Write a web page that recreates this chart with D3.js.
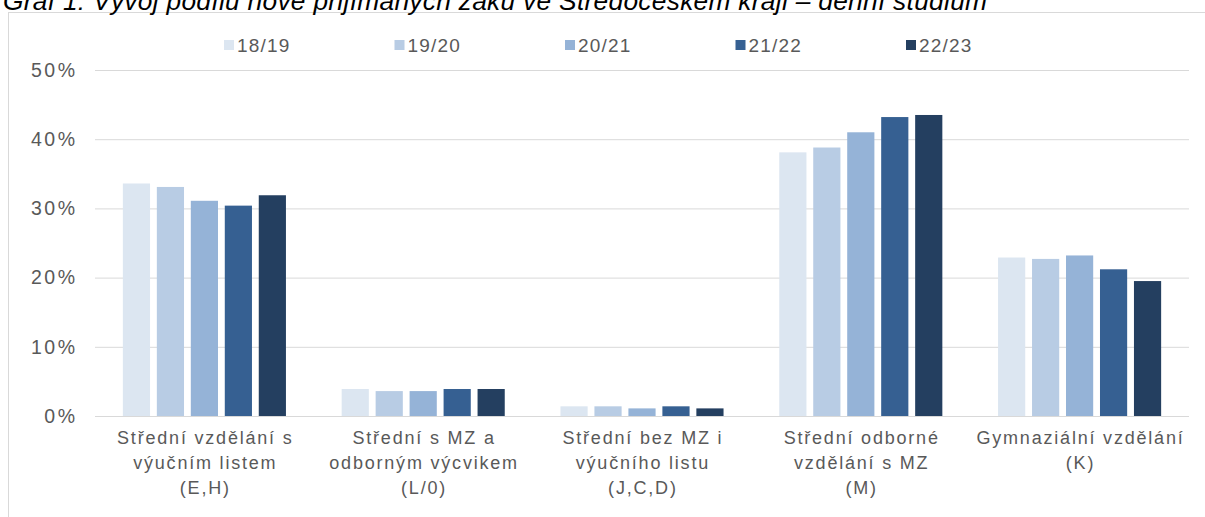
<!DOCTYPE html>
<html><head><meta charset="utf-8">
<script src="https://cdn.jsdelivr.net/npm/d3@7"></script>
<style>
html,body{margin:0;padding:0;background:#fff;overflow:hidden}
svg{display:block;font-family:"Liberation Sans",Arial,sans-serif}
</style></head><body>
<svg id="c" width="1205" height="517"></svg>
<script>
const title = "Graf 1: Vývoj podílu nově přijímaných žáků ve Středočeském kraji – denní studium";
const categories = [
  ["Střední vzdělání s","výučním listem","(E,H)"],
  ["Střední s MZ a","odborným výcvikem","(L/0)"],
  ["Střední bez MZ i","výučního listu","(J,C,D)"],
  ["Střední odborné","vzdělání s MZ","(M)"],
  ["Gymnaziální vzdělání","(K)"]
];
const seriesNames = ["18/19","19/20","20/21","21/22","22/23"];
const s1819 = [33.6, 3.9, 1.4, 38.1, 22.9];
const s1920 = [33.1, 3.6, 1.4, 38.8, 22.7];
const s2021 = [31.1, 3.6, 1.1, 41.0, 23.2];
const s2122 = [30.4, 3.9, 1.4, 43.2, 21.2];
const s2223 = [31.9, 3.9, 1.1, 43.5, 19.5];
const seriesValues = [s1819, s1920, s2021, s2122, s2223];
const colors = ["#dce6f1","#b8cce4","#95b3d7","#366092","#243f60"];
const yTicks = [0,10,20,30,40,50];

const svg = d3.select("#c");
const textColor = "#595959";

// frame
svg.append("rect").attr("x",8.5).attr("y",12.5).attr("width",1205).attr("height",520)
  .attr("fill","none").attr("stroke","#d9d9d9").attr("stroke-width",1);

// title (clipped at the top, as in the source)
svg.append("text").attr("x",3).attr("y",10).attr("font-style","italic")
  .attr("font-size",26.3).attr("letter-spacing",0.3).attr("fill","#000").text(title);

const plot = {left:95, right:1189, top:70, bottom:416};
const x0 = d3.scaleBand().domain(d3.range(categories.length)).range([plot.left, plot.right]).padding(0);
const x1 = d3.scaleBand().domain(d3.range(seriesNames.length)).range([0, x0.bandwidth()])
  .paddingInner(0.2).paddingOuter(0.82);
const y = d3.scaleLinear().domain([0,50]).range([plot.bottom, plot.top]);

// gridlines + tick labels
const tickSpacing = 2.5;
const yAxis = d3.axisLeft(y).tickValues(yTicks).tickFormat(d => d + "%")
  .tickSize(-(plot.right-plot.left)).tickPadding(20 - tickSpacing);
const gy = svg.append("g").attr("transform",`translate(${plot.left},0)`).call(yAxis);
gy.select(".domain").remove();
gy.selectAll(".tick line").attr("stroke","#d9d9d9").attr("stroke-width",1);
gy.selectAll(".tick text").attr("fill",textColor).attr("font-size",19.5)
  .attr("font-family","Liberation Sans, Arial, sans-serif").attr("letter-spacing",tickSpacing);

// bars
const groups = svg.append("g").selectAll("g").data(categories).join("g")
  .attr("transform",(d,i)=>`translate(${x0(i)},0)`);
groups.selectAll("rect").data((d,i)=>seriesValues.map((s,j)=>({j, v:s[i]}))).join("rect")
  .attr("x",d=>x1(d.j)).attr("width",x1.bandwidth())
  .attr("y",d=>y(d.v)).attr("height",d=>y(0)-y(d.v))
  .attr("fill",d=>colors[d.j]);

// baseline
svg.append("line").attr("x1",plot.left).attr("x2",plot.right).attr("y1",y(0)+0.5).attr("y2",y(0)+0.5)
  .attr("stroke","#d9d9d9");

// x labels
const xl = svg.append("g");
categories.forEach((lines,i)=>{
  const cx = x0(i)+x0.bandwidth()/2 + 0.9;
  const t = xl.append("text").attr("text-anchor","middle")
    .attr("fill",textColor).attr("font-size",18).attr("letter-spacing",1.8);
  lines.forEach((ln,k)=>t.append("tspan").attr("x",cx).attr("y",444+k*25).text(ln));
});

// legend
const legX = [224,394.5,565,735.5,906];
const lg = svg.append("g");
seriesNames.forEach((n,i)=>{
  lg.append("rect").attr("x",legX[i]).attr("y",40).attr("width",10).attr("height",10).attr("fill",colors[i]);
  lg.append("text").attr("x",legX[i]+13).attr("y",52).attr("font-size",19)
    .attr("letter-spacing",1.2).attr("fill",textColor).text(n);
});
</script></body></html>
